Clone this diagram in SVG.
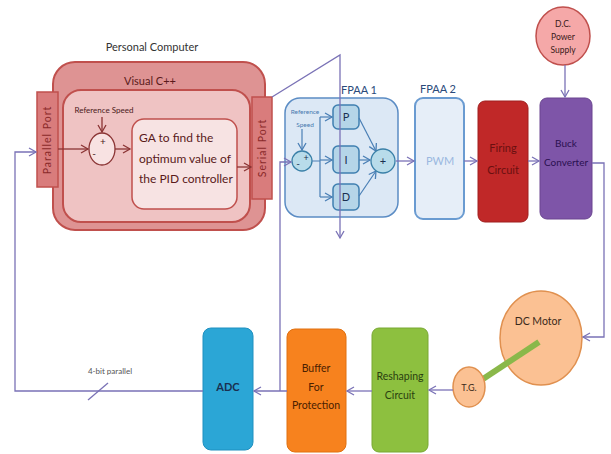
<svg xmlns="http://www.w3.org/2000/svg" width="611" height="454" viewBox="0 0 611 454">
<defs>
<marker id="aL" markerWidth="10" markerHeight="10" refX="8" refY="5" orient="auto" markerUnits="userSpaceOnUse"><path d="M1,1 L8,5 L1,9" fill="none" stroke="#7a72b6" stroke-width="1.3"/></marker>
<marker id="aR" markerWidth="10" markerHeight="10" refX="8" refY="5" orient="auto" markerUnits="userSpaceOnUse"><path d="M1,1 L8,5 L1,9" fill="none" stroke="#8b3434" stroke-width="1.3"/></marker>
<marker id="aB" markerWidth="10" markerHeight="10" refX="8" refY="5" orient="auto" markerUnits="userSpaceOnUse"><path d="M1,1 L8,5 L1,9" fill="none" stroke="#4a7fb5" stroke-width="1.3"/></marker>
</defs>
<style>
text{font-family:Lato,"Liberation Sans",sans-serif;text-anchor:middle}
.ln{fill:none;stroke:#7a72b6;stroke-width:1.3}
.lr{fill:none;stroke:#8b3434;stroke-width:1.3}
.lb{fill:none;stroke:#4a7fb5;stroke-width:1.2}
.pc{fill:#de9393;stroke:#c0504d;stroke-width:2}
.pcin{fill:#efc3c3;stroke:#c0504d;stroke-width:2}
.port{fill:#d97c7c;stroke:#c0504d;stroke-width:1.5}
.pid{fill:#b5d5e8;stroke:#3f7fb0;stroke-width:1.5}
.t{fill:#333}
</style>
<rect width="611" height="454" fill="#fff"/>
<g id="pc">
<text x="152" y="51" font-size="11" class="t">Personal Computer</text>
<rect class="pc" x="53" y="62" width="212" height="168" rx="22"/>
<text x="150" y="85" font-size="11" fill="#5a1a1a">Visual C++</text>
<rect class="pcin" x="63" y="90" width="187" height="132" rx="18"/>
</g>
<g id="parallel-port">
<rect class="port" x="37" y="92" width="21" height="95"/>
<text transform="translate(51,140) rotate(-90)" font-size="10.5" fill="#8a2a2a" letter-spacing="1">Parallel Port</text>
</g>
<g id="serial-port">
<rect class="port" x="252" y="97" width="20" height="102"/>
<text transform="translate(265.5,148) rotate(-90)" font-size="10.5" fill="#8a2a2a" letter-spacing="1">Serial Port</text>
</g>
<g id="pc-sum">
<text x="104" y="113" font-size="8" fill="#4a1a1a">Reference Speed</text>
<ellipse cx="102" cy="149" rx="13" ry="16" fill="#f8e2e2" stroke="#8b3434" stroke-width="1.3"/>
<text x="103" y="145" font-size="10" fill="#4a1a1a">+</text>
<text x="94" y="157" font-size="10" fill="#4a1a1a">-</text>
</g>
<g id="ga">
<rect x="132" y="119" width="105" height="90" rx="12" fill="#f7e3e3" stroke="#c0504d" stroke-width="1.5"/>
<text x="139" y="142" font-size="12" fill="#5a1a1a" style="text-anchor:start">GA to find the</text>
<text x="139" y="163" font-size="12" fill="#5a1a1a" style="text-anchor:start">optimum value of</text>
<text x="139" y="183" font-size="12" fill="#5a1a1a" style="text-anchor:start">the PID controller</text>
</g>
<g id="fpaa1">
<text x="359" y="94" font-size="11" fill="#2a4a7a">FPAA 1</text>
<rect x="285" y="98" width="113" height="119" rx="15" fill="#dce8f5" stroke="#5b8cc4" stroke-width="1.5"/>
<text x="305" y="114" font-size="6.5" fill="#4a7ab0">Reference</text>
<text x="305" y="127" font-size="6.5" fill="#4a7ab0">Speed</text>
<line class="lb" x1="302" y1="129" x2="302" y2="150" marker-end="url(#aB)"/>
<circle cx="302" cy="161" r="10" fill="#b8dcea" stroke="#3a80a8" stroke-width="1.3"/>
<text x="298" y="167" font-size="10" fill="#1a3050">-</text>
<text x="306" y="161" font-size="9" fill="#1a3050">+</text>
<path class="lb" d="M312,161 L320,161 M320,117 L320,197"/>
<line class="lb" x1="320" y1="117" x2="332" y2="117" marker-end="url(#aB)"/>
<line class="lb" x1="320" y1="160" x2="332" y2="160" marker-end="url(#aB)"/>
<line class="lb" x1="320" y1="197" x2="332" y2="197" marker-end="url(#aB)"/>
<rect class="pid" x="333" y="105" width="26" height="24" rx="5"/>
<text x="346" y="121" font-size="11" fill="#1a3050">P</text>
<rect class="pid" x="333" y="146" width="26" height="27" rx="5"/>
<text x="346" y="164" font-size="11" fill="#1a3050">I</text>
<rect class="pid" x="333" y="184" width="26" height="26" rx="5"/>
<text x="346" y="201" font-size="11" fill="#1a3050">D</text>
<line class="lb" x1="359" y1="118" x2="376" y2="151" marker-end="url(#aB)"/>
<line class="lb" x1="359" y1="160" x2="370" y2="160" marker-end="url(#aB)"/>
<line class="lb" x1="359" y1="196" x2="376" y2="171" marker-end="url(#aB)"/>
<circle cx="383" cy="161" r="12" fill="#b8dcea" stroke="#3a80a8" stroke-width="1.3"/>
<text x="383" y="165" font-size="11" fill="#1a3050">+</text>
</g>
<g id="pwm">
<text x="438" y="93" font-size="11" fill="#2a4a7a">FPAA 2</text>
<rect x="415" y="98" width="49" height="121" rx="8" fill="#e6eef8" stroke="#6a9bd1" stroke-width="2"/>
<text x="440" y="165" font-size="11" fill="#9ab8e0">PWM</text>
</g>
<g id="firing">
<rect x="478" y="101" width="50" height="121" rx="7" fill="#c02828" stroke="#a01e1e"/>
<text x="503" y="152" font-size="11" fill="#6a1010">Firing</text>
<text x="503" y="174" font-size="11" fill="#6a1010">Circuit</text>
</g>
<g id="buck">
<rect x="540" y="98" width="52" height="121" rx="7" fill="#7e55a8" stroke="#6a4590"/>
<text x="566" y="147" font-size="10" fill="#2a1050">Buck</text>
<text x="566" y="166" font-size="10" fill="#2a1050">Converter</text>
</g>
<g id="dc-power">
<ellipse cx="563" cy="36" rx="27" ry="29" fill="#f5a8a8" stroke="#c0504d" stroke-width="1.5"/>
<text x="563" y="27" font-size="8.5" fill="#3a1a1a">D.C.</text>
<text x="563" y="40" font-size="8.5" fill="#3a1a1a">Power</text>
<text x="563" y="53" font-size="8.5" fill="#3a1a1a">Supply</text>
</g>
<g id="dc-motor">
<ellipse cx="541" cy="338" rx="41" ry="47" fill="#fbc193" stroke="#e0904f" stroke-width="1.5"/>
<text x="538" y="325" font-size="10.5" fill="#3a2a1a">DC Motor</text>
</g>
<g id="shaft">
<line x1="539" y1="342" x2="483" y2="379" stroke="#8ab84a" stroke-width="6"/>
</g>
<g id="tg">
<ellipse cx="469" cy="387" rx="16" ry="20" fill="#fbc193" stroke="#e0904f" stroke-width="1.5"/>
<text x="469" y="391" font-size="9" fill="#3a2a1a">T.G.</text>
</g>
<g id="reshaping">
<rect x="372" y="328" width="56" height="124" rx="7" fill="#8dc03f" stroke="#78a832"/>
<text x="400" y="380" font-size="10.5" fill="#2a4010">Reshaping</text>
<text x="400" y="399" font-size="10.5" fill="#2a4010">Circuit</text>
</g>
<g id="buffer">
<rect x="287" y="329" width="59" height="123" rx="8" fill="#f7821e" stroke="#e07010"/>
<text x="316" y="372" font-size="10.5" fill="#4a2000">Buffer</text>
<text x="316" y="391" font-size="10.5" fill="#4a2000">For</text>
<text x="316" y="409" font-size="10.5" fill="#4a2000">Protection</text>
</g>
<g id="adc">
<rect x="203" y="328" width="50" height="122" rx="8" fill="#2ba6d6" stroke="#1f90c0"/>
<text x="228" y="391" font-size="11" font-weight="bold" fill="#1a3050">ADC</text>
</g>
<g id="bus-label">
<text x="110" y="374" font-size="8" fill="#555">4-bit parallel</text>
</g>
<g id="connectors">
<path class="ln" d="M203,391 L15,391 L15,152 L36,152" marker-end="url(#aL)"/>
<line class="ln" x1="88" y1="400" x2="108" y2="383"/>
<path class="ln" d="M280,391 L280,162 L291,162" marker-end="url(#aL)"/>
<path class="ln" d="M272,97 L340,55 L340,238" marker-end="url(#aL)"/>
<line class="ln" x1="287" y1="391" x2="254" y2="391" marker-end="url(#aL)"/>
<line class="ln" x1="372" y1="391" x2="347" y2="391" marker-end="url(#aL)"/>
<line class="ln" x1="453" y1="390" x2="429" y2="390" marker-end="url(#aL)"/>
<path class="ln" d="M592,163 L604,163 L604,337 L583,337" marker-end="url(#aL)"/>
<line class="ln" x1="565" y1="65" x2="565" y2="97" marker-end="url(#aL)"/>
<line class="ln" x1="396" y1="161" x2="414" y2="161" marker-end="url(#aL)"/>
<line class="ln" x1="464" y1="161" x2="477" y2="161" marker-end="url(#aL)"/>
<line class="ln" x1="528" y1="161" x2="539" y2="161" marker-end="url(#aL)"/>
<line class="lr" x1="58" y1="149" x2="88" y2="149" marker-end="url(#aR)"/>
<line class="lr" x1="102" y1="117" x2="102" y2="132" marker-end="url(#aR)"/>
<line class="lr" x1="115" y1="149" x2="130" y2="149" marker-end="url(#aR)"/>
<line class="lr" x1="237" y1="167" x2="251" y2="167" marker-end="url(#aR)"/>
</g>
</svg>
